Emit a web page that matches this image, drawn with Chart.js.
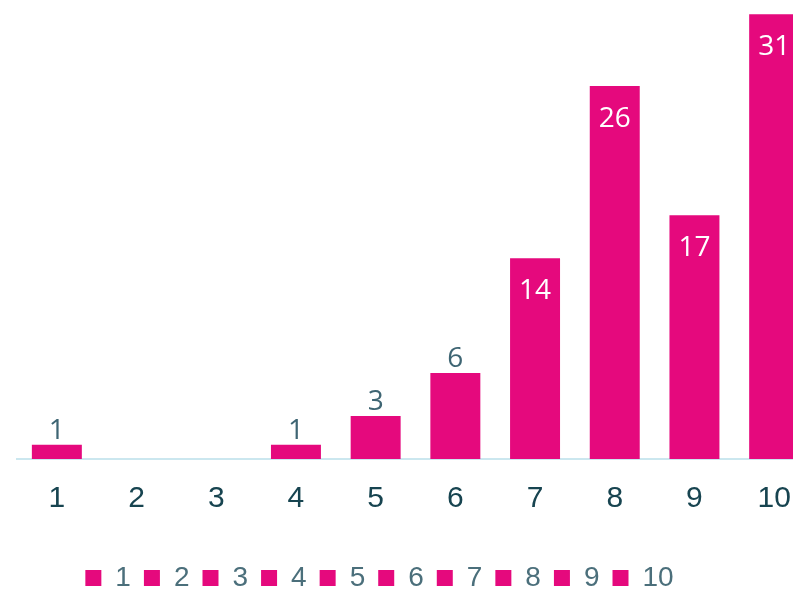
<!DOCTYPE html>
<html>
<head>
<meta charset="utf-8">
<script src="https://cdn.jsdelivr.net/npm/chart.js@4/dist/chart.umd.min.js"></script>
<style>
  html, body { margin: 0; padding: 0; background: #fff; overflow: hidden; }
  #wrap { position: relative; width: 814px; height: 589px; }
</style>
</head>
<body>
<div id="wrap"><canvas id="chart"></canvas></div>
<script>
// data
const categories = ['1', '2', '3', '4', '5', '6', '7', '8', '9', '10'];
const counts = [1, 0, 0, 1, 3, 6, 14, 26, 17, 31];

const barColor = '#E5097D';
const tickColor = '#174450';
const legendColor = '#4B6F7B';
const outsideLabelColor = '#3E6573';

// values above this go inside the bar in white, others sit on top
const insideThreshold = 10;

// labels on the bars (no datalabels plugin available offline)
const barLabels = {
    id: 'barLabels',
    afterDatasetsDraw(chart) {
        const ctx = chart.ctx;
        const meta = chart.getDatasetMeta(0);
        ctx.save();
        ctx.font = '28px "Open Sans", sans-serif';
        ctx.textAlign = 'center';
        ctx.textBaseline = 'middle';
        meta.data.forEach((bar, i) => {
            const v = counts[i];
            if (!v) return;
            if (v > insideThreshold) {
                ctx.fillStyle = '#FFFFFF';
                ctx.fillText(String(v), bar.x, bar.y + 33);
            } else {
                ctx.fillStyle = outsideLabelColor;
                ctx.fillText(String(v), bar.x, bar.y - 14);
            }
        });
        ctx.restore();
    }
};

// the legend in the picture is not centred on the canvas
const legendNudge = {
    id: 'legendNudge',
    afterLayout(chart) {
        const lg = chart.legend;
        if (!lg) return;
        lg.left -= 36; lg.right -= 36;
        lg.top += 13; lg.bottom += 13;
    }
};

new Chart(document.getElementById('chart').getContext('2d'), {
    type: 'bar',
    data: {
        labels: categories,
        datasets: [{
            label: 'count',
            data: counts,
            backgroundColor: barColor,
            borderWidth: 0,
            barPercentage: 0.627,
            categoryPercentage: 1
        }]
    },
    options: {
        responsive: true,
        maintainAspectRatio: false,
        animation: false,
        layout: { padding: { left: 17, right: 0, top: 0, bottom: 0 } },
        plugins: {
            tooltip: { enabled: false },
            legend: {
                position: 'bottom',
                labels: {
                    boxWidth: 16,
                    boxHeight: 16,
                    padding: 13,
                    color: legendColor,
                    font: { family: '"Liberation Sans", Arial, sans-serif', size: 28 },
                    generateLabels: () => categories.map((c, i) => ({
                        text: c,
                        fillStyle: barColor,
                        strokeStyle: barColor,
                        fontColor: legendColor,
                        lineWidth: 0,
                        hidden: false,
                        index: i
                    }))
                }
            }
        },
        scales: {
            x: {
                grid: { display: false },
                border: { display: true, color: '#CBE7EF', width: 2 },
                ticks: {
                    color: tickColor,
                    padding: 14,
                    font: { family: '"Liberation Sans", Arial, sans-serif', size: 30 }
                },
                afterFit: (s) => { s.height = 79; }
            },
            y: {
                display: false,
                min: 0,
                max: 32
            }
        }
    },
    plugins: [barLabels, legendNudge]
});
</script>
</body>
</html>
